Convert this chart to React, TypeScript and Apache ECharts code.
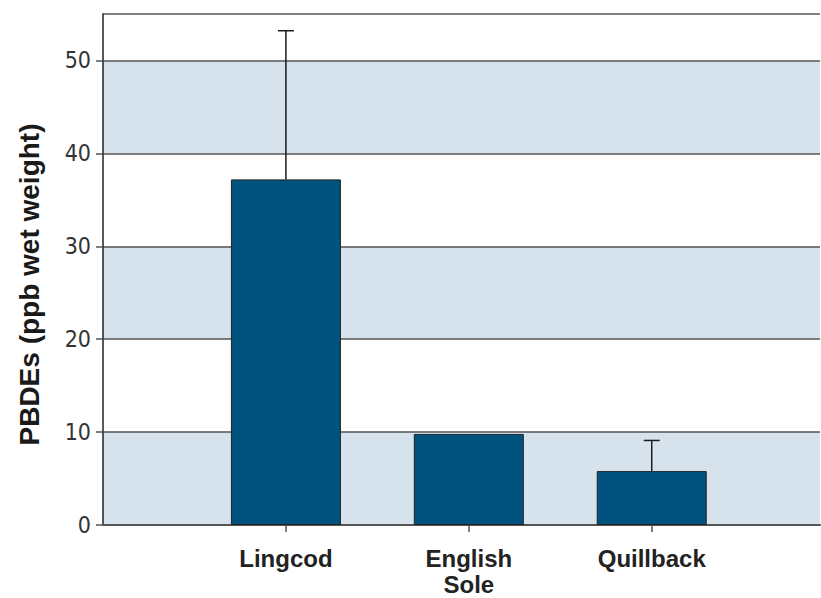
import React, { useEffect, useRef } from "react";
import * as echarts from "echarts";

const categories = ["Lingcod", "English\nSole", "Quillback"];
const positions = [1, 2, 3];
const means = [37.2, 9.8, 5.8];
const errorTops: (number | null)[] = [53.2, null, 9.1];
const yAxisTitle = "PBDEs (ppb wet weight)";

export default function App() {
  const ref = useRef<HTMLDivElement>(null);
  useEffect(() => {
    if (!ref.current) return;
    const chart = echarts.init(ref.current, null, { renderer: "svg" });
    const barData = positions.map((p, i) => [p, means[i]]);
    const errData = positions
      .map((p, i) => [p, means[i], errorTops[i]])
      .filter((d) => d[2] != null);
    chart.setOption({
      animation: false,
      backgroundColor: "#ffffff",
      grid: {
        left: 103,
        right: 1,
        top: 14,
        bottom: 73,
        containLabel: false,
        outerBoundsMode: "none",
      },
      xAxis: {
        type: "value",
        min: 0,
        max: 3.92,
        interval: 1,
        splitLine: { show: false },
        axisLine: { show: true, onZero: false, lineStyle: { color: "#555", width: 2 } },
        axisTick: {
          show: true,
          length: 7,
          customValues: positions,
          lineStyle: { color: "#555", width: 1.5 },
        },
        axisLabel: {
          customValues: positions,
          margin: 20,
          formatter: (v: number) => {
            const i = positions.indexOf(v);
            return i >= 0 ? categories[i] : "";
          },
          fontFamily: "Arial, 'Liberation Sans', Helvetica, sans-serif",
          fontWeight: "bold",
          fontSize: 24,
          lineHeight: 26,
          color: "#222",
        },
      },
      yAxis: {
        type: "value",
        min: 0,
        max: 55,
        interval: 10,
        name: yAxisTitle,
        nameLocation: "middle",
        nameRotate: 90,
        nameGap: 60,
        nameTextStyle: {
          fontFamily: "Arial, 'Liberation Sans', Helvetica, sans-serif",
          fontWeight: "bold",
          fontSize: 28,
          color: "#1a1a1a",
          padding: [0, 30, 0, 0],
        },
        axisLine: { show: true, lineStyle: { color: "#222", width: 1.5 } },
        axisTick: { show: true, length: 7, lineStyle: { color: "#555", width: 1.5 } },
        axisLabel: {
          margin: 12,
          showMaxLabel: false,
          formatter: (v: number) => (v % 10 === 0 ? String(v) : ""),
          fontFamily: "'Liberation Sans Narrow', 'DejaVu Sans Condensed', sans-serif",
          fontSize: 23,
          color: "#333",
        },
        splitLine: { show: true, lineStyle: { color: "#555", width: 1.5 } },
        splitArea: { show: true, areaStyle: { color: ["#d7e3ec", "#ffffff"] } },
      },
      series: [
        {
          type: "bar",
          data: barData,
          barWidth: 110,
          itemStyle: { color: "#00537e", borderColor: "#222", borderWidth: 1 },
          z: 2,
        },
        {
          type: "custom",
          data: errData,
          z: 3,
          renderItem: (params: any, api: any) => {
            const x = api.value(0);
            const top = api.coord([x, api.value(2)]);
            const base = api.coord([x, api.value(1)]);
            const half = 8;
            return {
              type: "group",
              children: [
                {
                  type: "line",
                  shape: { x1: top[0], y1: top[1], x2: base[0], y2: base[1] },
                  style: { stroke: "#1a1a1a", lineWidth: 1.5 },
                },
                {
                  type: "line",
                  shape: { x1: top[0] - half, y1: top[1], x2: top[0] + half, y2: top[1] },
                  style: { stroke: "#1a1a1a", lineWidth: 1.5 },
                },
              ],
            };
          },
        },
      ],
    });
    return () => chart.dispose();
  }, []);
  return (
    <div
      ref={ref}
      style={{ position: "fixed", left: 0, top: 0, width: 821, height: 598 }}
    />
  );
}
